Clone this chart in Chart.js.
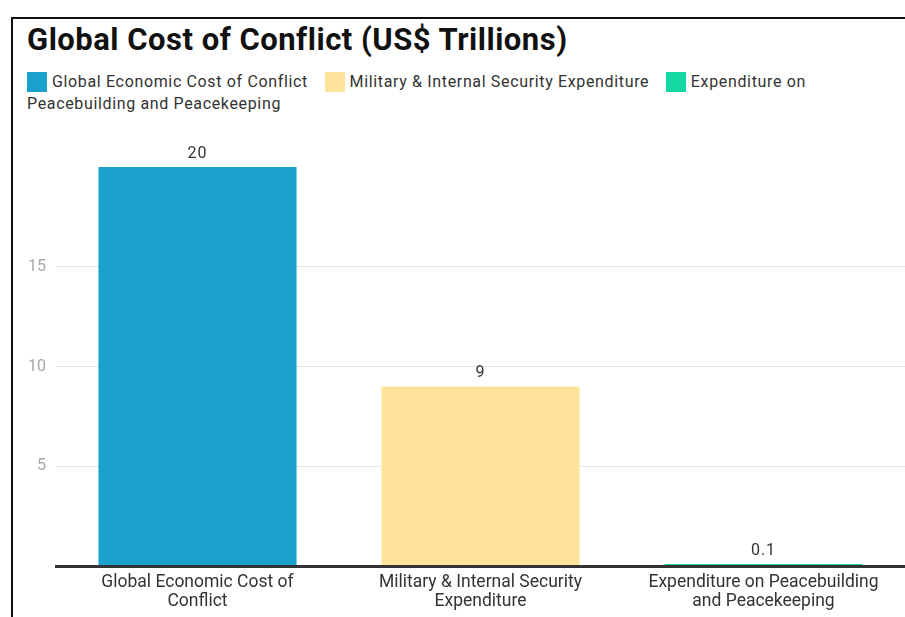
<!DOCTYPE html>
<html>
<head>
<meta charset="utf-8">
<script src="https://cdn.jsdelivr.net/npm/chart.js@4"></script>
<style>
  html, body { margin: 0; padding: 0; background: #fff; overflow: hidden; }
  body { width: 905px; height: 617px; position: relative; font-family: Roboto, sans-serif; }
  #frame {
    position: absolute; left: 11px; top: 17px; width: 1000px; height: 700px;
    border-top: 2px solid #111; border-left: 2px solid #111;
  }
  #title {
    position: absolute; left: 27px; top: 21px; margin: 0;
    font-size: 31px; font-weight: 700; color: #111; white-space: nowrap;
    letter-spacing: 0.5px;
  }
  #legend {
    position: absolute; left: 27px; top: 71px; width: 820px;
    font-size: 16px; line-height: 22px; color: #333; letter-spacing: 0.65px;
  }
  #legend .sw {
    display: inline-block; width: 20px; height: 20px; vertical-align: -5px; margin-right: 5px;
  }
  #legend .item { margin-right: 12px; }
  #chart { position: absolute; left: 0; top: 0; }
</style>
</head>
<body>
<div id="frame"></div>
<h1 id="title">Global Cost of Conflict (US$ Trillions)</h1>
<div id="legend"></div>
<canvas id="chart" width="905" height="617"></canvas>
<script>
const categories = [
    'Global Economic Cost of Conflict',
    'Military & Internal Security Expenditure',
    'Expenditure on Peacebuilding and Peacekeeping',
];
const tickLines = [
    ['Global Economic Cost of', 'Conflict'],
    ['Military & Internal Security', 'Expenditure'],
    ['Expenditure on Peacebuilding', 'and Peacekeeping'],
];
const values = [20, 9, 0.1];
const colors = ['#19a1cc', '#fee39b', '#14d9a2'];
const yTicks = [5, 10, 15];

// legend built by hand so the last label can wrap onto the next line
const legendEl = document.getElementById('legend');
categories.forEach((name, i) => {
    const item = document.createElement('span');
    item.className = 'item';
    const sw = document.createElement('span');
    sw.className = 'sw';
    sw.style.background = colors[i];
    item.appendChild(sw);
    item.appendChild(document.createTextNode(name));
    legendEl.appendChild(item);
    legendEl.appendChild(document.createTextNode(' '));
});

const valueLabels = {
    id: 'valueLabels',
    afterDatasetsDraw(chart) {
        const c = chart.ctx;
        const meta = chart.getDatasetMeta(0);
        c.save();
        c.font = '16px Roboto';
        c.letterSpacing = '1px';
        c.fillStyle = '#333';
        c.textAlign = 'center';
        c.textBaseline = 'alphabetic';
        meta.data.forEach((bar, i) => {
            c.fillText(String(values[i]), bar.x, bar.y - 9);
        });
        c.restore();
    },
};

const ctx = document.getElementById('chart').getContext('2d');
const chart = new Chart(ctx, {
    type: 'bar',
    data: {
        labels: tickLines,
        datasets: [{
            label: 'US$ Trillions',
            data: values,
            backgroundColor: colors,
            barPercentage: 0.7,
            categoryPercentage: 1,
        }],
    },
    options: {
        responsive: false,
        animation: false,
        layout: { padding: { left: 0, right: 0, top: 167, bottom: 0 } },
        plugins: {
            legend: { display: false },
            tooltip: { enabled: false },
        },
        scales: {
            x: {
                grid: { display: false, drawTicks: false },
                // z above 0 puts the axis line over the bars
                border: { display: true, color: '#333', width: 3, z: 1 },
                ticks: {
                    color: '#333',
                    font: { family: 'Roboto', size: 17.5, lineHeight: 1.08 },
                    padding: 7,
                    maxRotation: 0,
                    autoSkip: false,
                },
                afterFit(scale) { scale.height = 51; },
            },
            y: {
                min: 0,
                max: 20,
                grid: {
                    drawTicks: false,
                    color: (c) => yTicks.includes(c.tick.value) ? '#e6e6e6' : 'rgba(0,0,0,0)',
                },
                border: { display: false },
                ticks: {
                    stepSize: 5,
                    padding: 10,
                    color: '#a8a8a8',
                    font: { family: 'Roboto', size: 16 },
                    callback: (v) => yTicks.includes(v) ? v : '',
                },
                afterFit(scale) { scale.width = 56; },
            },
        },
    },
    plugins: [valueLabels],
});
</script>
</body>
</html>
